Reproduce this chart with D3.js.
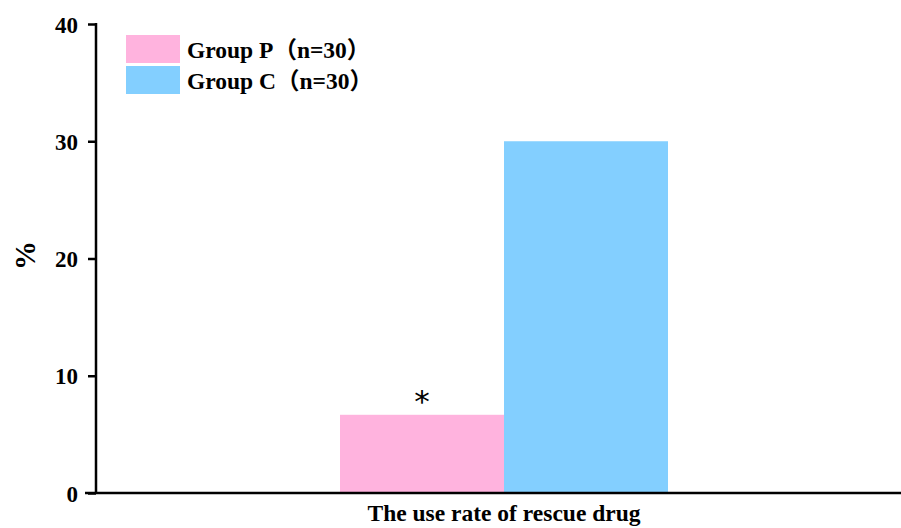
<!DOCTYPE html>
<html>
<head>
<meta charset="utf-8">
<script src="https://cdn.jsdelivr.net/npm/d3@7"></script>
<style>
  html, body { margin: 0; padding: 0; background: #fff; }
  svg { display: block; }
  text { font-family: "Liberation Serif", "Times New Roman", "Noto Sans CJK SC", serif; font-weight: bold; fill: #000; }
</style>
</head>
<body>
<svg id="chart" width="901" height="528"></svg>
<script>
// Chart data
const categories = ["The use rate of rescue drug"];
const groups = ["Group P\uFF08n=30\uFF09", "Group C\uFF08n=30\uFF09"];
const groupP = [6.67];
const groupC = [30];
const yTicks = [0, 10, 20, 30, 40];
const colors = ["#FFB3DE", "#83CFFF"];
const marks = ["*", ""];

const svg = d3.select("#chart");
const W = 901, H = 528;
const margin = { left: 96, right: 0, top: 24, bottom: 35 };
const y0 = H - margin.bottom;
const fontStack = "'Liberation Serif', 'Times New Roman', 'Noto Sans CJK SC', serif";

const y = d3.scaleLinear().domain([0, 40]).range([y0, margin.top]);

const x0 = d3.scaleBand()
  .domain(categories)
  .range([margin.left, 912])
  .paddingInner(0)
  .paddingOuter(0.7439);

const x1 = d3.scaleBand()
  .domain(groups)
  .range([0, x0.bandwidth()])
  .padding(0);

const series = [groupP, groupC];

// Bars
categories.forEach((cat, ci) => {
  groups.forEach((g, gi) => {
    const v = series[gi][ci];
    svg.append("rect")
      .attr("x", x0(cat) + x1(g))
      .attr("y", y(v))
      .attr("width", x1.bandwidth())
      .attr("height", y(0) - y(v))
      .attr("fill", colors[gi]);
    if (marks[gi]) {
      svg.append("text")
        .attr("x", x0(cat) + x1(g) + x1.bandwidth() / 2)
        .attr("y", y(v) - 3)
        .attr("text-anchor", "middle")
        .style("font-family", "'DejaVu Sans', sans-serif")
        .style("font-weight", "normal")
        .style("font-size", "31px")
        .text(marks[gi]);
    }
  });
});

// Y axis
const yAxis = d3.axisLeft(y).tickValues(yTicks).tickSize(8).tickPadding(10).tickFormat(d3.format("d"));
const gy = svg.append("g").attr("transform", `translate(${margin.left},0)`).call(yAxis);
gy.select(".domain").remove();
gy.selectAll(".tick line").attr("stroke", "#000").attr("stroke-width", 2.5);
gy.selectAll(".tick text")
  .attr("dy", "0.35em")
  .style("font-size", "23px")
  .style("font-family", fontStack)
  .style("font-weight", "bold");
svg.append("line")
  .attr("x1", margin.left).attr("x2", margin.left)
  .attr("y1", y(40) - 1).attr("y2", y0)
  .attr("stroke", "#000").attr("stroke-width", 2.5);

// X axis baseline
svg.append("line")
  .attr("x1", 85).attr("x2", W)
  .attr("y1", y0).attr("y2", y0)
  .attr("stroke", "#000").attr("stroke-width", 2.5);

// X category label
categories.forEach(cat => {
  svg.append("text")
    .attr("x", x0(cat) + x0.bandwidth() / 2)
    .attr("y", 521)
    .attr("text-anchor", "middle")
    .style("font-size", "23.5px")
    .text(cat);
});

// Y axis title
svg.append("text")
  .attr("transform", `translate(35,${y(20) - 3}) rotate(-90)`)
  .attr("text-anchor", "middle")
  .style("font-size", "29px")
  .text("%");

// Legend
const legend = svg.append("g").attr("transform", "translate(126,35)");
groups.forEach((g, i) => {
  const row = legend.append("g").attr("transform", `translate(0,${i * 31})`);
  row.append("rect").attr("width", 54).attr("height", 28).attr("fill", colors[i]);
  row.append("text")
    .attr("x", 61).attr("y", 23)
    .style("font-size", "23.5px")
    .text(g);
});
</script>
</body>
</html>
